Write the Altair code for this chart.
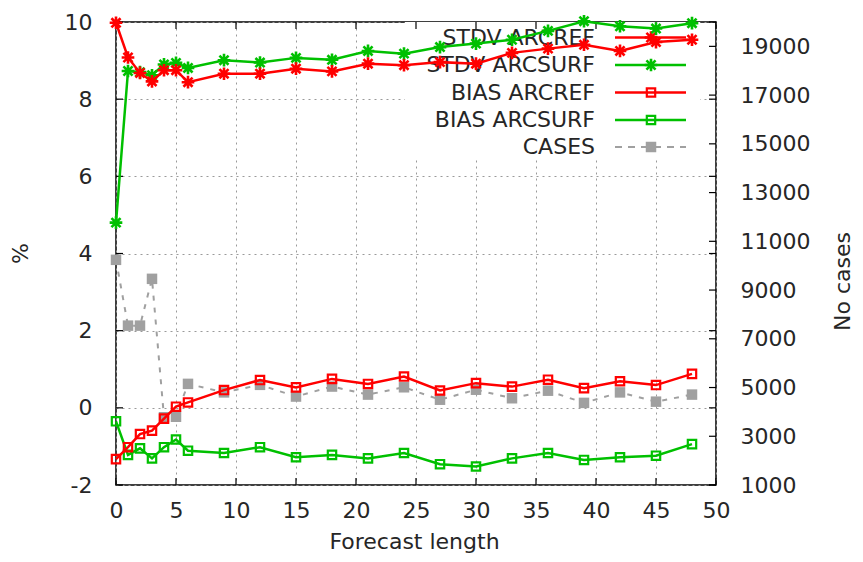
import altair as alt
import pandas as pd

# ---------------- data ----------------
lead = [0, 1, 2, 3, 4, 5, 6, 9, 12, 15, 18, 21, 24, 27, 30, 33, 36, 39, 42, 45, 48]
stdv_arcref = [9.98, 9.08, 8.68, 8.46, 8.75, 8.75, 8.44, 8.66, 8.66, 8.79, 8.72, 8.92,
               8.88, 8.96, 8.92, 9.20, 9.31, 9.41, 9.25, 9.48, 9.54]
stdv_arcsurf = [4.80, 8.73, 8.70, 8.62, 8.90, 8.94, 8.81, 9.01, 8.95, 9.07, 9.02, 9.25,
                9.18, 9.35, 9.44, 9.54, 9.77, 10.02, 9.89, 9.83, 9.97]
bias_arcref = [-1.33, -1.02, -0.68, -0.59, -0.28, 0.03, 0.14, 0.46, 0.72, 0.53, 0.75, 0.62,
               0.81, 0.45, 0.64, 0.55, 0.73, 0.51, 0.69, 0.59, 0.88]
bias_arcsurf = [-0.35, -1.22, -1.05, -1.31, -1.02, -0.82, -1.11, -1.17, -1.02, -1.28, -1.22, -1.31,
                -1.17, -1.46, -1.52, -1.31, -1.17, -1.35, -1.28, -1.24, -0.94]
cases = [10240, 7540, 7540, 9460, 3780, 3800, 5150, 4800, 5110, 4630, 5040, 4710,
         5010, 4500, 4910, 4560, 4870, 4370, 4800, 4420, 4710]

series_names = ["STDV ARCREF", "STDV ARCSURF", "BIAS ARCREF", "BIAS ARCSURF", "CASES"]
x_ticks = list(range(0, 51, 5))
y_ticks = list(range(-2, 11, 2))
y2_ticks = list(range(1000, 20000, 2000))

# ---------------- styling ----------------
FONT = "DejaVu Sans"
FS = 22
TXT = "#262626"
RED = "#ff0000"
GREEN = "#00c000"
GRAY = "#a0a0a0"
W, H = 600, 463
STAR = "M-1,0L1,0M0,-1L0,1M-0.72,-0.72L0.72,0.72M-0.72,0.72L0.72,-0.72"

df = pd.DataFrame({
    "lead": lead,
    "stdv_ref": stdv_arcref,
    "stdv_surf": stdv_arcsurf,
    "bias_ref": bias_arcref,
    "bias_surf": bias_arcsurf,
    "cases": cases,
})
one = pd.DataFrame({"k": [0]})
xt = pd.DataFrame({"v": x_ticks})
yt = pd.DataFrame({"v": y_ticks})
y2t = pd.DataFrame({"v": y2_ticks})

xscale = alt.Scale(domain=[0, 50], nice=False, zero=False)
yscale = alt.Scale(domain=[-2, 10], nice=False, zero=False)
y2scale = alt.Scale(domain=[1000, 20000], nice=False, zero=False)

grid_kw = dict(grid=True, gridDash=[2, 4], gridColor="#9a9a9a", gridWidth=1)
lab_kw = dict(labelFont=FONT, labelFontSize=FS, labelColor=TXT, labelOverlap=False,
              labelFlush=False, labelBound=False, ticks=False, domain=False,
              titleFont=FONT, titleFontSize=FS, titleFontWeight="normal", titleColor=TXT,
              titleAlign="center")

xaxis = alt.Axis(values=x_ticks, format="d", labelPadding=15, title="Forecast length",
                 titleX=298, titleY=63, titleBaseline="alphabetic", **grid_kw, **lab_kw)
yaxis = alt.Axis(orient="left", values=y_ticks, format="d",
                 labelExpr="replace(datum.label, '\u2212', '-')",
                 labelPadding=24, title="%", titleBaseline="middle",
                 titleAngle=270, titleX=-96, titleY=231, **grid_kw, **lab_kw)
y2axis = alt.Axis(orient="right", values=y2_ticks, format="d", grid=False, labelPadding=24,
                  labelAlign="left", title="No cases", titleAngle=270,
                  titleBaseline="alphabetic", titleX=133, titleY=259, **lab_kw)

X = alt.X("lead:Q", scale=xscale, axis=xaxis)


def series(col, color, shape, size, sw):
    base = alt.Chart(df).encode(x=X, y=alt.Y(f"{col}:Q", scale=yscale, axis=yaxis))
    line = base.mark_line(color=color, strokeWidth=2.5)
    pts = base.mark_point(shape=shape, filled=False, color=color, size=size,
                          strokeWidth=sw, opacity=1)
    return [line, pts]


# ---------------- legend (gnuplot style, inside top right) ----------------
leg_y = [15.5, 43, 70.5, 98, 125]
leg_style = [
    (RED, STAR, 160, False, None),
    (GREEN, STAR, 160, False, None),
    (RED, "square", 70, False, None),
    (GREEN, "square", 70, False, None),
    (GRAY, "square", 110, True, [7, 6]),
]
legend_layers = [
    alt.Chart(one).mark_rect(color="white").encode(
        x=alt.value(289), x2=alt.value(584), y=alt.value(0), y2=alt.value(138))
]
for name, ly, (col, shp, sz, fill, dash) in zip(series_names, leg_y, leg_style):
    legend_layers.append(
        alt.Chart(one).mark_text(text=name, align="right", baseline="middle",
                                 font=FONT, fontSize=FS, color=TXT)
        .encode(x=alt.value(479), y=alt.value(ly)))
    rule_kw = dict(color=col, strokeWidth=2.5 if dash is None else 2)
    if dash is not None:
        rule_kw["strokeDash"] = dash
    legend_layers.append(
        alt.Chart(one).mark_rule(**rule_kw)
        .encode(x=alt.value(499), x2=alt.value(570), y=alt.value(ly)))
    legend_layers.append(
        alt.Chart(one).mark_point(shape=shp, filled=fill, color=col, size=sz,
                                  strokeWidth=2.6 if shp == STAR else 2.2, opacity=1)
        .encode(x=alt.value(535), y=alt.value(ly)))

# ---------------- inward ticks ----------------
TK = 7
tick_kw = dict(color="black", strokeWidth=1.2)
XT = alt.X("v:Q", scale=xscale, axis=xaxis)
YT = alt.Y("v:Q", scale=yscale, axis=yaxis)
tick_layers = [
    alt.Chart(xt).mark_rule(**tick_kw).encode(x=XT, y=alt.value(H), y2=alt.value(H - TK)),
    alt.Chart(xt).mark_rule(**tick_kw).encode(x=XT, y=alt.value(0), y2=alt.value(TK)),
    alt.Chart(yt).mark_rule(**tick_kw).encode(y=YT, x=alt.value(0), x2=alt.value(TK)),
    alt.Chart(yt).mark_rule(**tick_kw).encode(y=YT, x=alt.value(W), x2=alt.value(W - TK)),
]

# ---------------- left-axis group ----------------
data_layers = (series("bias_surf", GREEN, "square", 70, 2.2)
               + series("bias_ref", RED, "square", 70, 2.2)
               + series("stdv_surf", GREEN, STAR, 160, 2.6)
               + series("stdv_ref", RED, STAR, 160, 2.6))
left_group = alt.layer(*legend_layers, *tick_layers, *data_layers)

# ---------------- right-axis group (cases) ----------------
cbase = alt.Chart(df).encode(x=X, y=alt.Y("cases:Q", scale=y2scale, axis=y2axis))
cases_line = cbase.mark_line(color=GRAY, strokeWidth=2, strokeDash=[5, 7])
cases_pts = cbase.mark_point(shape="square", filled=True, color=GRAY, size=110, opacity=1)
y2_tick_layer = alt.Chart(y2t).mark_rule(**tick_kw).encode(
    y=alt.Y("v:Q", scale=y2scale, axis=y2axis), x=alt.value(W), x2=alt.value(W - TK))
right_group = alt.layer(cases_line, cases_pts, y2_tick_layer)

chart = (
    alt.layer(right_group, left_group)
    .resolve_scale(y="independent")
    .properties(width=W, height=H,
                padding={"left": 108, "top": 14, "right": 139, "bottom": 69},
                autosize=alt.AutoSizeParams(type="none"),
                background="white")
    .configure_view(stroke="black", strokeWidth=1.5)
)

chart.save("out.html", embed_options={"renderer": "svg", "actions": False})
